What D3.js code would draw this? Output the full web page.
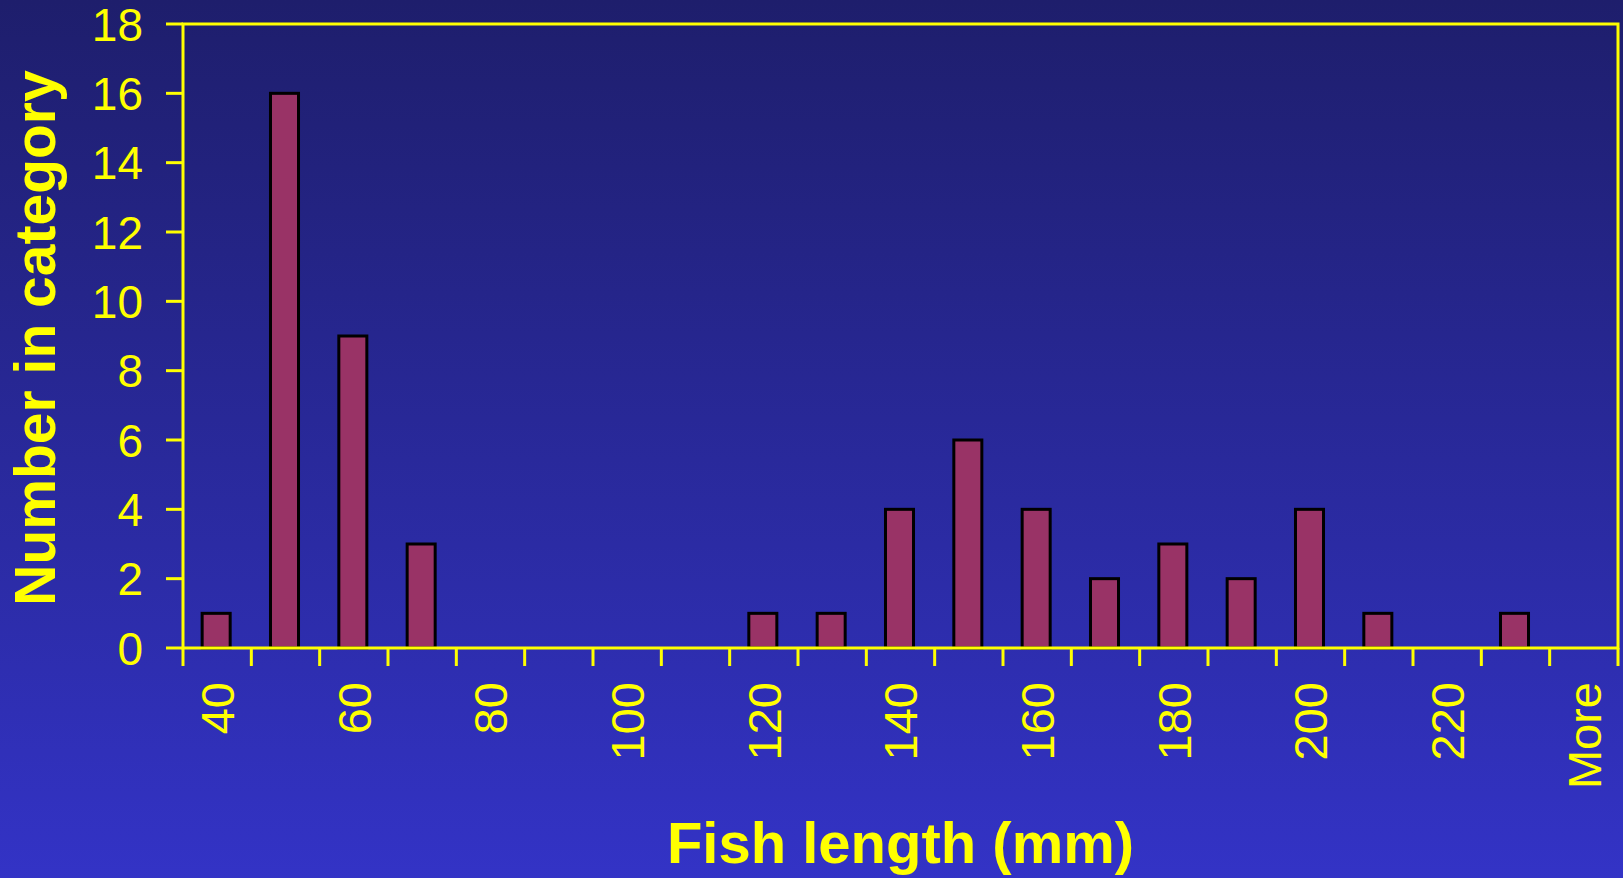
<!DOCTYPE html>
<html>
<head>
<meta charset="utf-8">
<script src="https://cdn.jsdelivr.net/npm/d3@7"></script>
<style>
  html, body { margin: 0; padding: 0; background: #3333c4; }
  svg { display: block; font-family: "Liberation Sans", Arial, sans-serif; }
</style>
</head>
<body>
<div id="chart"></div>
<script>
// histogram bins (mm) and counts
var bins = ["40", "50", "60", "70", "80", "90", "100", "110", "120", "130", "140",
            "150", "160", "170", "180", "190", "200", "210", "220", "230", "More"];
var counts = [1, 16, 9, 3, 0, 0, 0, 0, 1, 1, 4, 6, 4, 2, 3, 2, 4, 1, 0, 1, 0];
var yTicks = [0, 2, 4, 6, 8, 10, 12, 14, 16, 18];

function draw() {
    var w = 1623;
    var h = 878;
    var margin = {top: 24, right: 5, bottom: 230, left: 183};
    var yellow = "#ffff00";

    var svg = d3.select("#chart")
                .append("svg")
                .attr("width", w)
                .attr("height", h);

    // background gradient, dark navy at top to brighter blue at bottom
    var grad = svg.append("defs")
                  .append("linearGradient")
                  .attr("id", "bg")
                  .attr("x1", 0).attr("y1", 0)
                  .attr("x2", 0).attr("y2", 1);
    grad.append("stop").attr("offset", "0%").attr("stop-color", "#1e1e6c");
    grad.append("stop").attr("offset", "100%").attr("stop-color", "#3333c6");

    svg.append("rect")
       .attr("width", w)
       .attr("height", h)
       .attr("fill", "url(#bg)");

    var x = d3.scaleBand()
              .domain(bins)
              .range([margin.left, w - margin.right])
              .padding(0);

    var y = d3.scaleLinear()
              .domain([0, 18])
              .range([h - margin.bottom, margin.top]);

    var x0 = margin.left, x1 = w - margin.right;
    var y0 = y(0), y1 = y(18);

    // bars (empty bins draw nothing)
    var bw = x.bandwidth() * 0.41;
    var rows = bins.map(function(b, i) { return {bin: b, n: counts[i]}; })
                   .filter(function(d) { return d.n > 0; });

    svg.selectAll("rect.bar")
       .data(rows)
       .enter()
       .append("rect")
       .attr("class", "bar")
       .attr("x", function(d) { return x(d.bin) + (x.bandwidth() - bw) / 2 - 1; })
       .attr("y", function(d) { return y(d.n); })
       .attr("width", bw)
       .attr("height", function(d) { return y0 - y(d.n); })
       .attr("fill", "#993366")
       .attr("stroke", "#000")
       .attr("stroke-width", 3);

    // plot frame (yellow)
    svg.append("rect")
       .attr("x", x0)
       .attr("y", y1)
       .attr("width", x1 - x0)
       .attr("height", y0 - y1)
       .attr("fill", "none")
       .attr("stroke", yellow)
       .attr("stroke-width", 3);

    // y axis ticks + labels
    var yAxis = svg.append("g");
    yAxis.selectAll("line")
         .data(yTicks)
         .enter()
         .append("line")
         .attr("x1", x0 - 17)
         .attr("x2", x0)
         .attr("y1", function(d) { return y(d); })
         .attr("y2", function(d) { return y(d); })
         .attr("stroke", yellow)
         .attr("stroke-width", 3);
    yAxis.selectAll("text")
         .data(yTicks)
         .enter()
         .append("text")
         .attr("x", x0 - 40)
         .attr("y", function(d) { return y(d); })
         .attr("dy", "0.36em")
         .attr("text-anchor", "end")
         .attr("font-size", 46)
         .attr("fill", yellow)
         .text(function(d) { return d; });

    // x axis ticks at bin boundaries
    var edges = bins.map(function(b) { return x(b); }).concat([x1]);
    svg.append("g")
       .selectAll("line")
       .data(edges)
       .enter()
       .append("line")
       .attr("x1", function(d) { return d; })
       .attr("x2", function(d) { return d; })
       .attr("y1", y0)
       .attr("y2", y0 + 18)
       .attr("stroke", yellow)
       .attr("stroke-width", 3);

    // every other bin labelled, rotated
    svg.append("g")
       .selectAll("text")
       .data(bins.filter(function(b, i) { return i % 2 === 0; }))
       .enter()
       .append("text")
       .attr("transform", function(d) {
           return "translate(" + (x(d) + x.bandwidth() / 2) + "," + (y0 + 34) + ") rotate(-90)";
       })
       .attr("dy", "0.36em")
       .attr("text-anchor", "end")
       .attr("font-size", 47)
       .attr("fill", yellow)
       .text(function(d) { return d; });

    // axis titles
    svg.append("text")
       .attr("x", (x0 + x1) / 2)
       .attr("y", 863)
       .attr("text-anchor", "middle")
       .attr("font-size", 58)
       .attr("font-weight", "bold")
       .attr("fill", yellow)
       .text("Fish length (mm)");

    svg.append("text")
       .attr("transform", "translate(55," + 338 + ") rotate(-90)")
       .attr("text-anchor", "middle")
       .attr("font-size", 57)
       .attr("font-weight", "bold")
       .attr("fill", yellow)
       .text("Number in category");
}

window.onload = draw;
</script>
</body>
</html>
